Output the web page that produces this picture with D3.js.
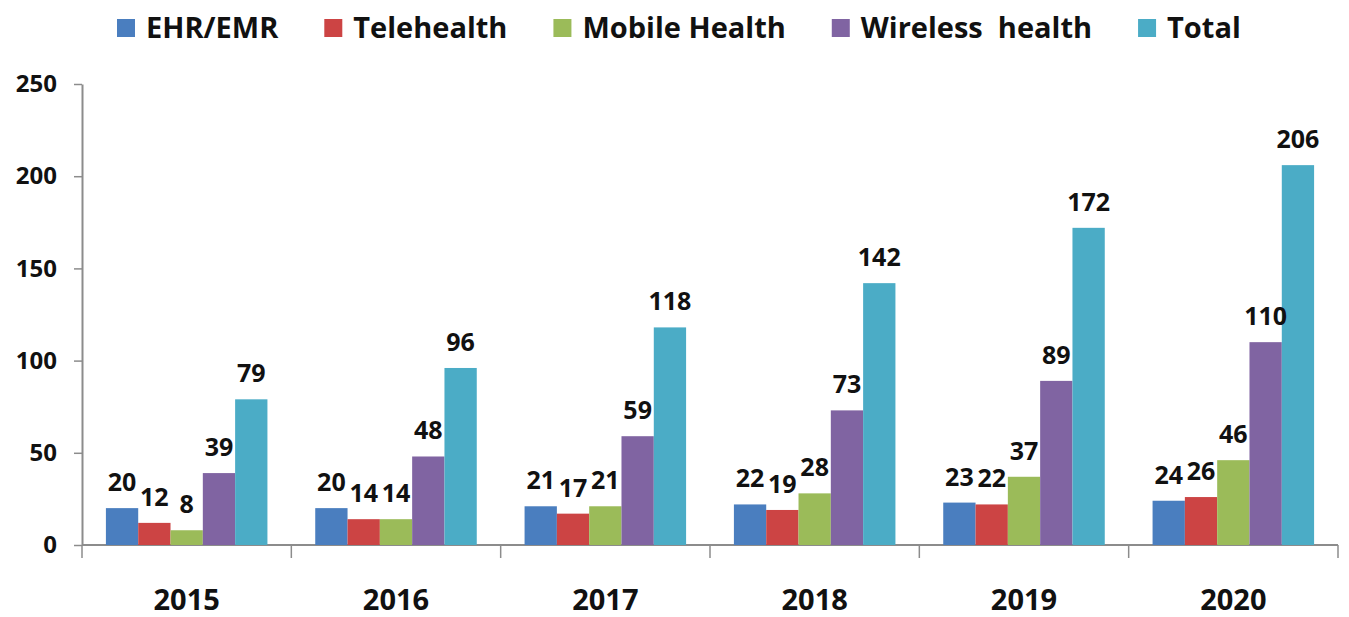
<!DOCTYPE html>
<html>
<head>
<meta charset="utf-8">
<script src="https://cdn.jsdelivr.net/npm/d3@7"></script>
<style>
  body { margin: 0; background: #fff; }
  text { font-family: "Open Sans", sans-serif; font-weight: 700; fill: #111; }
</style>
</head>
<body>
<div id="main"></div>
<script>
// chart values
const years = ['2015', '2016', '2017', '2018', '2019', '2020'];
const seriesNames = ['EHR/EMR', 'Telehealth', 'Mobile Health', 'Wireless  health', 'Total'];
const ehr = [20, 20, 21, 22, 23, 24];
const telehealth = [12, 14, 17, 19, 22, 26];
const mobile = [8, 14, 21, 28, 37, 46];
const wireless = [39, 48, 59, 73, 89, 110];
const total = [79, 96, 118, 142, 172, 206];
const yTicks = [0, 50, 100, 150, 200, 250];
const colors = ['#4a7ebf', '#cc4444', '#9bbb59', '#8064a2', '#4bacc6'];

const W = 1349, H = 617;
const margin = { top: 84, right: 11, bottom: 72, left: 82 };

const svg = d3.select('#main').append('svg')
  .attr('width', W)
  .attr('height', H);

const seriesValues = [ehr, telehealth, mobile, wireless, total];
const rows = years.map((y, i) => ({
  year: y,
  values: seriesValues.map((s, k) => ({ key: k, value: s[i] }))
}));

const x0 = d3.scaleBand()
  .domain(years)
  .range([margin.left, W - margin.right])
  .padding(0);

const x1 = d3.scaleBand()
  .domain(d3.range(seriesNames.length))
  .range([0, x0.bandwidth()])
  .paddingInner(0)
  .paddingOuter(0.74);

const y = d3.scaleLinear()
  .domain([0, 250])
  .range([H - margin.bottom, margin.top]);

// y axis
const yAxis = svg.append('g')
  .attr('transform', 'translate(' + margin.left + ',0)')
  .call(d3.axisLeft(y).tickValues(yTicks).tickSize(8).tickSizeOuter(0).tickPadding(17));
yAxis.select('.domain').attr('stroke', '#8c8c8c').attr('stroke-width', 2);
yAxis.selectAll('.tick line').attr('stroke', '#8c8c8c').attr('stroke-width', 1.5);
yAxis.selectAll('.tick text')
  .style('font-size', '24px')
  .style('font-family', '"Open Sans", sans-serif')
  .style('font-weight', 700)
  .attr('fill', '#111');

// x axis line and category boundary ticks
const baseY = y(0);
svg.append('line')
  .attr('x1', margin.left).attr('x2', W - margin.right)
  .attr('y1', baseY).attr('y2', baseY)
  .attr('stroke', '#8c8c8c').attr('stroke-width', 2);

const bounds = years.map(d => x0(d)).concat([x0.range()[1]]);
svg.selectAll('.xtick')
  .data(bounds)
  .enter().append('line')
    .attr('class', 'xtick')
    .attr('x1', d => d).attr('x2', d => d)
    .attr('y1', baseY).attr('y2', baseY + 13)
    .attr('stroke', '#8c8c8c').attr('stroke-width', 1.5);

svg.selectAll('.year')
  .data(years)
  .enter().append('text')
    .attr('class', 'year')
    .attr('x', d => x0(d) + x0.bandwidth() / 2)
    .attr('y', 610)
    .attr('text-anchor', 'middle')
    .style('font-size', '29px')
    .text(d => d);

// bars
const groups = svg.selectAll('.group')
  .data(rows)
  .enter().append('g')
    .attr('class', 'group')
    .attr('transform', d => 'translate(' + x0(d.year) + ',0)');

groups.selectAll('rect')
  .data(d => d.values)
  .enter().append('rect')
    .attr('x', d => x1(d.key))
    .attr('width', x1.bandwidth())
    .attr('y', d => y(d.value))
    .attr('height', d => baseY - y(d.value))
    .attr('fill', d => colors[d.key]);

groups.selectAll('.val')
  .data(d => d.values)
  .enter().append('text')
    .attr('class', 'val')
    .attr('x', d => x1(d.key) + x1.bandwidth() / 2)
    .attr('y', d => y(d.value) - 17)
    .attr('text-anchor', 'middle')
    .style('font-size', '25px')
    .text(d => d.value);

// legend
const legend = svg.append('g').attr('class', 'legend');
let lx = 117;
seriesNames.forEach((name, k) => {
  legend.append('rect')
    .attr('x', lx).attr('y', 19)
    .attr('width', 18).attr('height', 18)
    .attr('fill', colors[k]);
  const t = legend.append('text')
    .attr('x', lx + 29)
    .attr('y', 38)
    .style('font-size', '29px')
    .style('white-space', 'pre')
    .attr('xml:space', 'preserve')
    .text(name);
  lx += 29 + t.node().getComputedTextLength() + 46;
});
</script>
</body>
</html>
